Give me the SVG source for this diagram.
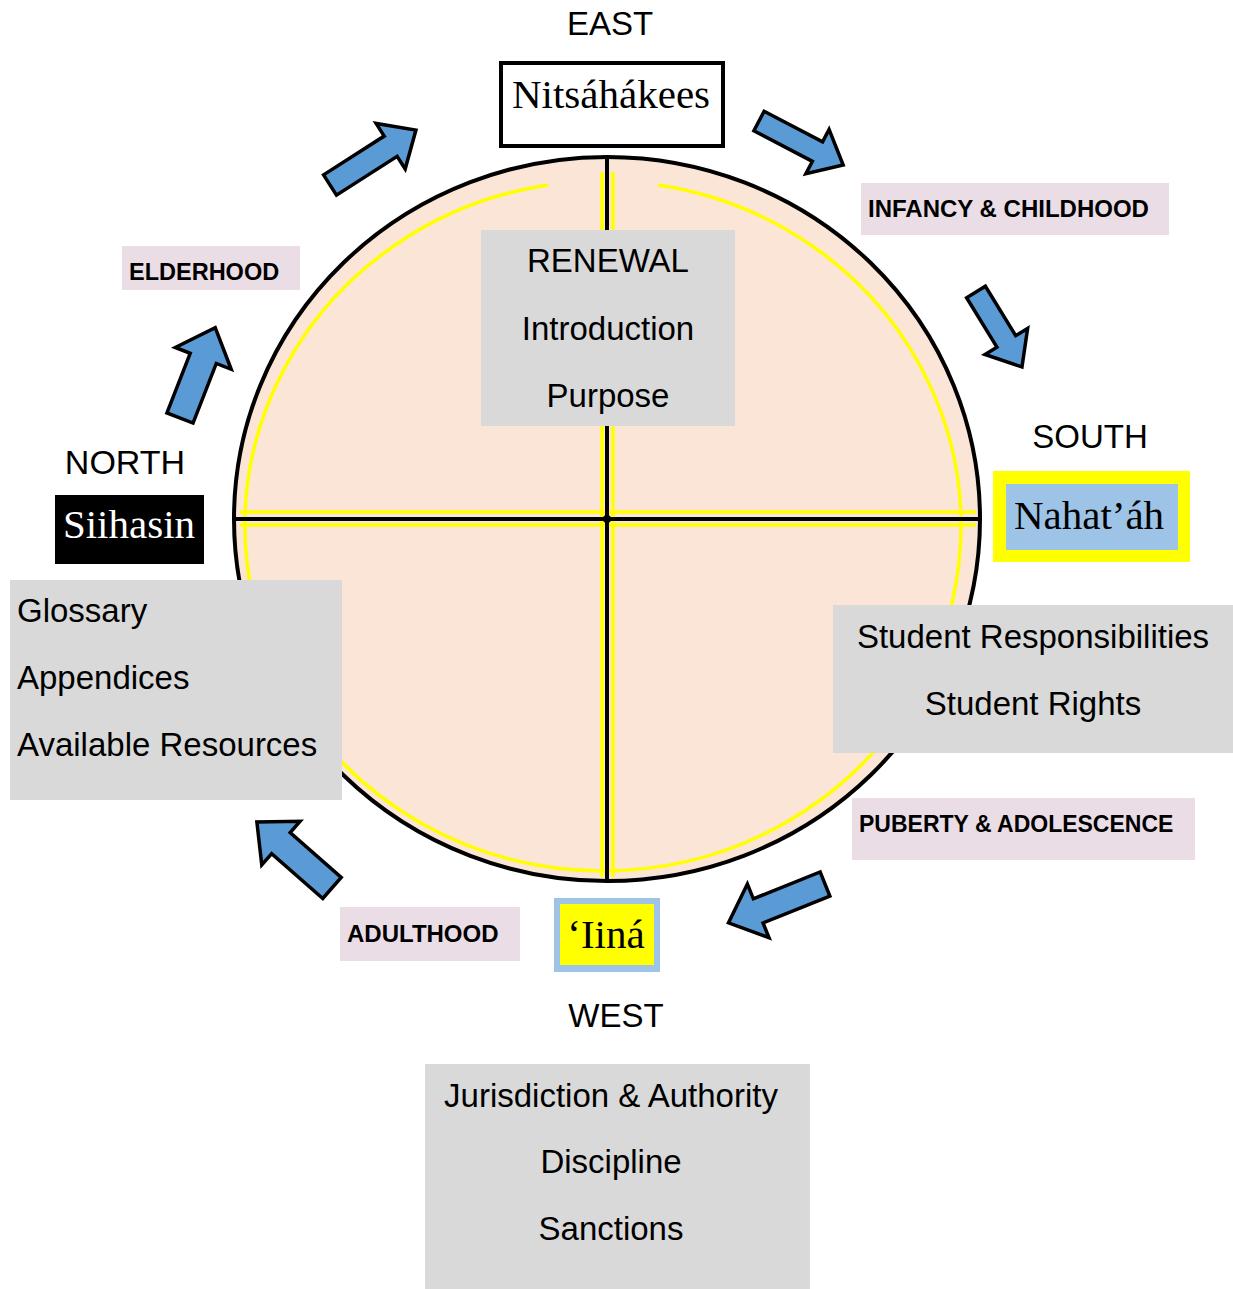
<svg xmlns="http://www.w3.org/2000/svg" width="1233" height="1289" viewBox="0 0 1233 1289">
<style>
.sans{font-family:"Liberation Sans",Arial,sans-serif;fill:#000}
.serif{font-family:"Liberation Serif","Times New Roman",serif;font-size:41px;fill:#000}
.dir{font-size:34px;text-anchor:middle}
.lbl{font-size:24px;font-weight:bold}
.gt{font-size:33px}
.pink{fill:#EADDE6}
.gray{fill:#D9D9D9}
.arrow{fill:#5B9BD5;stroke:#000;stroke-width:3.5;stroke-linejoin:miter}
.yl{stroke:#FFFF00;stroke-width:3.5;fill:none}
.bl{stroke:#000;stroke-width:4;fill:none}
</style>
<rect width="1233" height="1289" fill="#fff"/>

<g id="wheel">
  <ellipse cx="607" cy="519" rx="373" ry="362" fill="#FBE5D6" stroke="#000" stroke-width="4"/>
  <path class="yl" d="M 658 185 A 358 345 0 1 1 548 185"/>
  <line class="yl" x1="602" y1="172" x2="602" y2="877"/>
  <line class="yl" x1="613" y1="172" x2="613" y2="877"/>
  <line class="yl" x1="240" y1="512" x2="976" y2="512"/>
  <line class="yl" x1="240" y1="525" x2="976" y2="525"/>
  <line class="bl" x1="607" y1="157" x2="607" y2="881"/>
  <line class="bl" x1="234" y1="519" x2="980" y2="519"/>
  <circle cx="607" cy="519" r="4" fill="#000"/>
</g>

<g id="connectors">
  <path class="arrow" transform="translate(330,185) rotate(-32.6)" d="M0,-12 L72,-12 L72,-27 L102,0 L72,27 L72,12 L0,12 Z"/>
  <path class="arrow" transform="translate(759,121) rotate(27.6)" d="M0,-11 L66,-11 L66,-25 L95,0 L66,25 L66,11 L0,11 Z"/>
  <path class="arrow" transform="translate(976,292) rotate(58.5)" d="M0,-11 L58,-11 L58,-25 L88,0 L58,25 L58,11 L0,11 Z"/>
  <path class="arrow" transform="translate(825,884) rotate(158.1)" d="M0,-13 L72,-13 L72,-29 L104,0 L72,29 L72,13 L0,13 Z"/>
  <path class="arrow" transform="translate(332,888) rotate(-138.7)" d="M0,-14 L68,-14 L68,-29 L100,0 L68,29 L68,14 L0,14 Z"/>
  <path class="arrow" transform="translate(180,418) rotate(-68.7)" d="M0,-14 L64,-14 L64,-30 L97,0 L64,30 L64,14 L0,14 Z"/>
</g>

<g id="east">
  <text class="sans dir" x="610" y="35" style="font-size:33px">EAST</text>
  <rect x="501" y="63" width="222" height="83" fill="#fff" stroke="#000" stroke-width="4"/>
  <text class="serif" x="611" y="108" text-anchor="middle">Nitsáhákees</text>
</g>

<g id="infancy">
  <rect class="pink" x="861" y="183" width="308" height="52"/>
  <text class="sans lbl" x="868" y="217">INFANCY &amp; CHILDHOOD</text>
</g>

<g id="elderhood">
  <rect class="pink" x="122" y="246" width="178" height="44"/>
  <text class="sans lbl" x="129" y="280" style="font-size:23.5px">ELDERHOOD</text>
</g>

<g id="renewal">
  <rect class="gray" x="481" y="230" width="254" height="196"/>
  <text class="sans gt" x="608" y="272" text-anchor="middle">RENEWAL</text>
  <text class="sans gt" x="608" y="340" text-anchor="middle">Introduction</text>
  <text class="sans gt" x="608" y="407" text-anchor="middle">Purpose</text>
</g>

<g id="south">
  <text class="sans dir" x="1090" y="448" style="font-size:33px">SOUTH</text>
  <rect x="993" y="471" width="197" height="91" fill="#FFFF00"/>
  <rect x="1006" y="484" width="172" height="66" fill="#9DC3E6"/>
  <text class="serif" x="1089" y="529" text-anchor="middle">Nahat’áh</text>
</g>

<g id="north">
  <text class="sans dir" x="125" y="474">NORTH</text>
  <rect x="55" y="495" width="149" height="69" fill="#000"/>
  <text class="serif" x="129" y="538" text-anchor="middle" style="fill:#fff">Siihasin</text>
</g>

<g id="glossary">
  <rect class="gray" x="10" y="580" width="332" height="220"/>
  <text class="sans gt" x="17" y="622">Glossary</text>
  <text class="sans gt" x="17" y="689">Appendices</text>
  <text class="sans gt" x="17" y="756">Available Resources</text>
</g>

<g id="student">
  <rect class="gray" x="833" y="605" width="400" height="148"/>
  <text class="sans gt" x="1033" y="648" text-anchor="middle">Student Responsibilities</text>
  <text class="sans gt" x="1033" y="715" text-anchor="middle">Student Rights</text>
</g>

<g id="puberty">
  <rect class="pink" x="852" y="798" width="343" height="62"/>
  <text class="sans lbl" x="859" y="832" style="font-size:23px">PUBERTY &amp; ADOLESCENCE</text>
</g>

<g id="adulthood">
  <rect class="pink" x="340" y="907" width="180" height="54"/>
  <text class="sans lbl" x="347" y="942">ADULTHOOD</text>
</g>

<g id="west">
  <rect x="554" y="898" width="106" height="74" fill="#9DC3E6"/>
  <rect x="560" y="904" width="94" height="61" fill="#FFFF00"/>
  <text class="serif" x="606" y="948" text-anchor="middle">‘Iiná</text>
  <text class="sans dir" x="616" y="1027" style="font-size:33px">WEST</text>
</g>

<g id="jurisdiction">
  <rect class="gray" x="425" y="1064" width="385" height="225"/>
  <text class="sans gt" x="611" y="1107" text-anchor="middle">Jurisdiction &amp; Authority</text>
  <text class="sans gt" x="611" y="1173" text-anchor="middle">Discipline</text>
  <text class="sans gt" x="611" y="1240" text-anchor="middle">Sanctions</text>
</g>
</svg>
